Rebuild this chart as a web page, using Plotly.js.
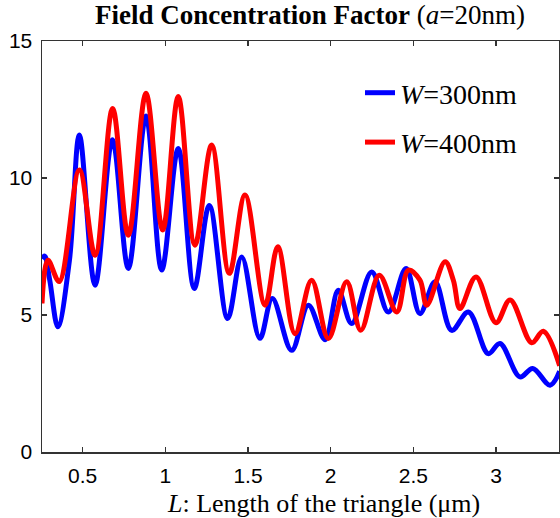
<!DOCTYPE html>
<html>
<head>
<meta charset="utf-8">
<script src="https://cdn.plot.ly/plotly-3.0.1.min.js"></script>
<style>html,body{margin:0;padding:0;background:#fff;}#chart{width:560px;height:518px;}</style>
</head>
<body>
<div id="chart"></div>
<script>
// Blue series: W = 300 nm
var blueL = [0.254, 0.27, 0.30, 0.35, 0.42, 0.48, 0.575, 0.68, 0.776, 0.883, 0.978, 1.078, 1.175, 1.266, 1.377, 1.462, 1.572, 1.647, 1.764, 1.865, 1.966, 2.046, 2.127, 2.248, 2.349, 2.456, 2.54, 2.631, 2.732, 2.833, 2.953, 3.024, 3.145, 3.222, 3.327, 3.385];
var blueF = [7.05, 7.15, 6.3, 4.57, 7.0, 11.57, 6.09, 11.4, 6.70, 12.26, 6.64, 11.08, 5.97, 9.0, 4.87, 7.12, 4.15, 5.6, 3.71, 5.36, 4.10, 5.9, 4.69, 6.57, 5.11, 6.70, 5.05, 6.21, 4.44, 5.11, 3.59, 3.96, 2.74, 3.05, 2.44, 2.95];
// Red series: W = 400 nm
var redL = [0.254, 0.29, 0.358, 0.48, 0.575, 0.681, 0.776, 0.883, 0.984, 1.078, 1.179, 1.28, 1.387, 1.482, 1.603, 1.68, 1.784, 1.885, 1.986, 2.097, 2.182, 2.294, 2.40, 2.47, 2.54, 2.581, 2.692, 2.742, 2.782, 2.879, 3.0, 3.085, 3.216, 3.286, 3.385];
var redF = [5.42, 7.0, 6.22, 10.29, 7.18, 12.54, 7.91, 13.09, 8.10, 12.97, 7.55, 11.2, 6.52, 9.38, 5.36, 7.49, 4.32, 6.27, 4.14, 6.21, 4.44, 6.45, 5.11, 6.64, 6.27, 5.36, 6.94, 6.27, 5.24, 6.39, 4.72, 5.55, 3.99, 4.41, 3.15];
var seriesNames = ['<i>W</i>=300nm', '<i>W</i>=400nm'];
var xTicks = [0.5, 1, 1.5, 2, 2.5, 3];
var xTickText = ['0.5', '1', '1.5', '2', '2.5', '3'];
var yTicks = [0, 5, 10, 15];
var yTickText = ['0', '5', '10', '15'];

var traces = [
  {x: blueL, y: blueF, name: seriesNames[0], type: 'scatter', mode: 'lines', legendgroup: 'a',
   line: {color: '#0000ff', width: 5, shape: 'spline', smoothing: 1}},
  {x: redL, y: redF, name: seriesNames[1], type: 'scatter', mode: 'lines', legendgroup: 'b',
   line: {color: '#ff0000', width: 5, shape: 'spline', smoothing: 1}}
];

var axisCommon = {
  showline: true, linecolor: '#333', linewidth: 1.5, mirror: 'ticks',
  ticks: 'inside', ticklen: 5, tickwidth: 1.5, tickcolor: '#333',
  showgrid: false, zeroline: false,
  tickfont: {family: 'Liberation Sans, Arial, sans-serif', size: 21, color: '#000'}
};

var layout = {
  width: 560, height: 518,
  margin: {l: 42, r: 1, t: 41, b: 66},
  paper_bgcolor: '#fff', plot_bgcolor: '#fff',
  title: {
    text: '<b>Field Concentration Factor</b> (<i>a</i>=20nm)',
    font: {family: 'Liberation Serif, Times New Roman, serif', size: 27, color: '#000'},
    xref: 'container', x: 310 / 560, xanchor: 'center',
    yref: 'container', y: 1 - 15 / 518, yanchor: 'middle'
  },
  xaxis: Object.assign({}, axisCommon, {
    range: [0.254, 3.381], tickvals: xTicks, ticktext: xTickText, ticklabelstandoff: 4
  }),
  yaxis: Object.assign({}, axisCommon, {
    range: [0, 15], tickvals: yTicks, ticktext: yTickText, ticklabelstandoff: 4
  }),
  showlegend: true,
  legend: {
    x: (360 - 42) / 517, xanchor: 'left', y: (452 - 68) / 411, yanchor: 'top',
    bgcolor: 'rgba(0,0,0,0)', borderwidth: 0, tracegroupgap: 10,
    font: {family: 'Liberation Serif, Times New Roman, serif', size: 28, color: '#000'}
  },
  annotations: [{
    text: '<i>L</i>: Length of the triangle (μm)',
    xref: 'paper', yref: 'paper', x: (323 - 42) / 517, y: (452 - 503) / 411,
    xanchor: 'center', yanchor: 'middle', showarrow: false,
    font: {family: 'Liberation Serif, Times New Roman, serif', size: 26, color: '#000'}
  }]
};

Plotly.newPlot('chart', traces, layout, {displayModeBar: false, staticPlot: true});
</script>
</body>
</html>
